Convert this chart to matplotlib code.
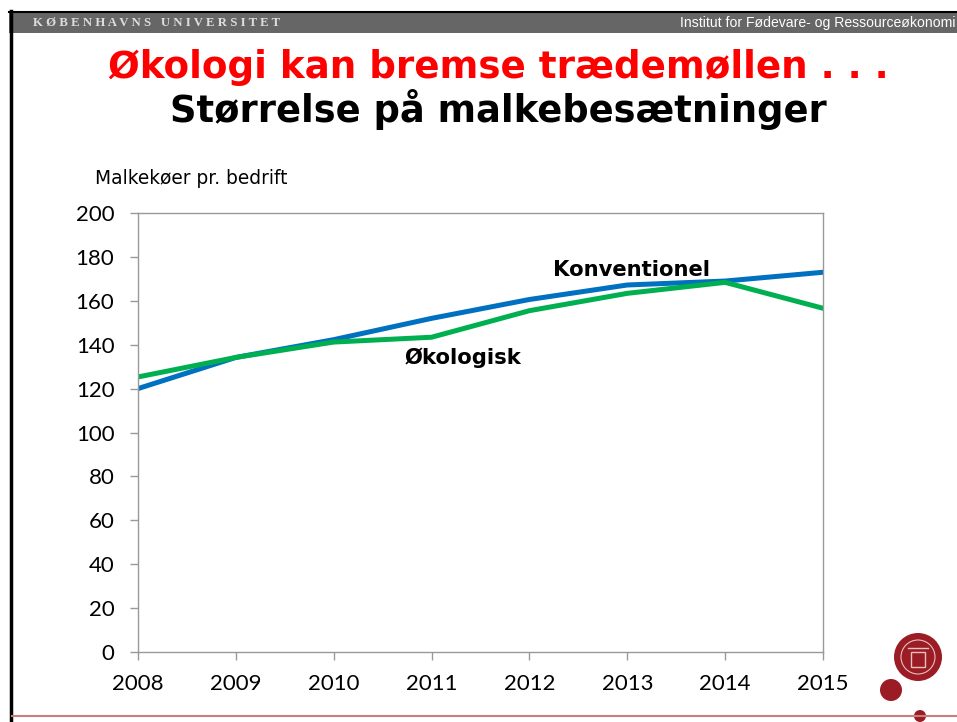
import matplotlib.pyplot as plt
from matplotlib.patches import Rectangle, Circle

# Malkekøer pr. bedrift
years = [2008, 2009, 2010, 2011, 2012, 2013, 2014, 2015]
konventionel = [120.0, 134.2, 142.3, 152.0, 160.6, 167.2, 169.0, 173.0]
okologisk = [125.3, 134.2, 141.2, 143.4, 155.5, 163.4, 168.4, 156.6]
yticks = [0, 20, 40, 60, 80, 100, 120, 140, 160, 180, 200]

W, H = 957, 722
fig = plt.figure(figsize=(W / 100, H / 100), dpi=100)

# overlay in pixel coordinates for the slide decoration
bg = fig.add_axes([0, 0, 1, 1])
bg.set_xlim(0, W)
bg.set_ylim(H, 0)
bg.axis("off")

bg.add_patch(Rectangle((9, 12), W, 21, facecolor="#666666", edgecolor="none"))
bg.plot([9, W], [11.5, 11.5], color="black", lw=1.5)
bg.plot([10.5, 10.5], [11, H], color="black", lw=2.5)
bg.text(33, 22.5, " ".join("KØBENHAVNS") + "   " + " ".join("UNIVERSITET"),
        color="#dddddd", fontsize=9.2, weight="bold", family="Liberation Serif",
        va="center", ha="left")
bg.text(956, 22.5, "Institut for Fødevare- og Ressourceøkonomi", color="white",
        fontsize=10.1, family="Liberation Sans", va="center", ha="right")

bg.text(498, 67, "Økologi kan bremse trædemøllen . . .", color="#ff0000",
        fontsize=26.8, weight="bold", family="DejaVu Sans", ha="center", va="center")
bg.text(498, 110, "Størrelse på malkebesætninger", color="black",
        fontsize=26.6, weight="bold", family="DejaVu Sans", ha="center", va="center")

bg.text(95, 178, "Malkekøer pr. bedrift", fontsize=13.4,
        family="DejaVu Sans", ha="left", va="center")

# bottom line and logo
red = "#9b1c24"
bg.plot([12, W], [716, 716], color="#c47f7f", lw=1.5)
bg.add_patch(Circle((891, 690), 11, facecolor=red, edgecolor="none"))
bg.add_patch(Circle((920, 716), 6, facecolor=red, edgecolor="none"))
bg.add_patch(Circle((918, 657), 24, facecolor=red, edgecolor="none"))
bg.add_patch(Circle((918, 657), 17, facecolor="none", edgecolor="#e8c0c0", lw=0.8))
bg.add_patch(Rectangle((911, 652), 14, 15, facecolor="none", edgecolor="#e8c0c0", lw=1))
bg.plot([908, 928], [648, 648], color="#e8c0c0", lw=1)

# chart
ax = fig.add_axes([138 / W, 1 - 652 / H, 685 / W, 439 / H])
ax.plot(years, konventionel, color="#0070c0", lw=3.6, solid_joinstyle="round")
ax.plot(years, okologisk, color="#00b050", lw=3.6, solid_joinstyle="round")

ax.set_xlim(2008, 2015)
ax.set_ylim(0, 200)
ax.set_yticks(yticks)
ax.set_xticks(years)
for s in ax.spines.values():
    s.set_color("#999999")
    s.set_linewidth(1)
ax.tick_params(colors="#999999", length=6, width=1, labelcolor="black",
               labelsize=16)
ax.tick_params(axis="x", pad=10)
ax.tick_params(axis="y", pad=11)
for lab in ax.get_xticklabels() + ax.get_yticklabels():
    lab.set_family("Lato")

ax.text(2012.24, 174, "Konventionel", fontsize=15.2, weight="bold",
        family="DejaVu Sans", ha="left", va="center")
ax.text(2010.72, 134, "Økologisk", fontsize=15.2, weight="bold",
        family="DejaVu Sans", ha="left", va="center")

fig.savefig("out.png", dpi=100)
